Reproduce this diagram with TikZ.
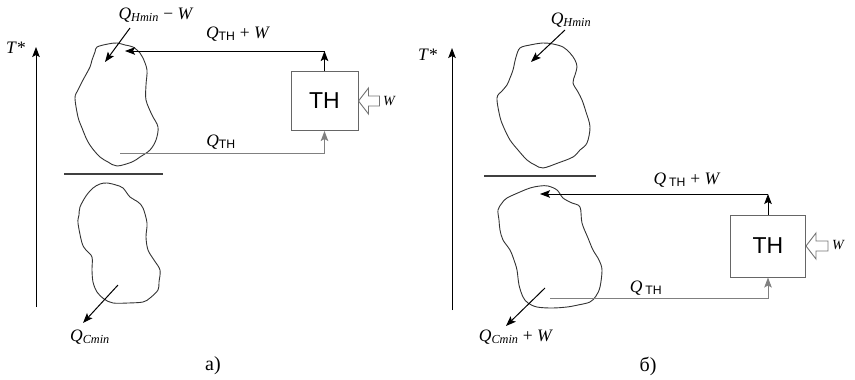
\documentclass[tikz,border=0pt]{standalone}
\usepackage{fontspec}
\setmainfont{Liberation Serif}
\newfontfamily\thfont{Liberation Sans}
\usetikzlibrary{arrows.meta,positioning}

\newcommand{\qlab}[1]{\textit{Q}\textsubscript{#1}}
\newcommand{\thsub}{{\thfont TH}}

\begin{document}
\begin{tikzpicture}[
  x=1pt, y=-1pt,
  lab/.style={inner sep=0pt, font=\fontsize{17.5}{19}\selectfont},
  wlab/.style={inner sep=0pt, font=\fontsize{14}{16}\selectfont\itshape},
  pump/.style={draw=black!60, line width=1pt, inner sep=0pt, font=\fontsize{23}{25}\thfont},
  work/.style={draw=black!55, line width=0.9pt, line join=miter},
  arrow/.style={-{Stealth[length=10pt,width=7.5pt,inset=2pt]}, line width=1pt},
  arrowg/.style={-{Stealth[length=10pt,width=7.5pt,inset=2pt]}, line width=1pt, black!50},
  blob/.style={draw=black!80, line width=0.9pt},
  sep/.style={line width=1.3pt, black!75}
]
\useasboundingbox (0,0) rectangle (855,380);

% ---- panel a) ----
\draw[blob] plot[smooth cycle, tension=0.55] coordinates {(97,47) (108,44) (117,43) (125,45) (133,47)
  (140,53) (143,58) (147,70) (146,85) (146,100) (152,115) (158,127) (156,140) (150,150) (140,157)
  (132,162) (117,166) (108,162) (100,157) (92,148) (87,140) (82,128) (78,117) (75,98) (78,90)
  (83,80) (90,67) (92,60) (95,52)};
\draw[blob] plot[smooth cycle, tension=0.55] coordinates {(107,183) (116,185) (123,188) (130,197)
  (138,202) (143,208) (147,223) (146,237) (148,250) (154,260) (160,270) (159,282) (158,290) (150,298)
  (143,302) (128,303) (113,303) (104,299) (97,292) (93,282) (92,270) (92,257) (86,250) (82,243)
  (78,223) (79,215) (80,207) (86,196) (93,188) (100,184)};
\draw[sep] (64,174) -- (163,174);

\coordinate (aAxisBot) at (36,307);
\coordinate (aAxisTop) at (36,47);
\draw[arrow] (aAxisBot) -- (aAxisTop);
\node[lab] (aT) at (16,48) {\textit{T}*};

\node[pump, minimum width=67pt, minimum height=59pt] (thA) at (324.5,101) {TH};
\draw[work] (thA.east) -- ++(10,-13) -- ++(0,8) -- ++(11,0) -- ++(0,10)
  -- ++(-11,0) -- ++(0,8) -- cycle;
\node[wlab] (wlabA) at (389,101) {W};

\coordinate (aHin) at (125,51);
\draw[arrow] (thA.north) -- (thA.north |- aHin);
\draw[arrow] (thA.north |- aHin) -- (aHin);
\coordinate (aCout) at (120,153);
\draw[arrowg] (aCout) -- (aCout -| thA.south) -- (thA.south);

\node[lab] (aHlab) at (156,15) {\qlab{\textit{Hmin}} − \textit{W}};
\coordinate (aHfrom) at (130,28);
\coordinate (aHto) at (105,62);
\draw[arrow] (aHfrom) -- (aHto);
\node[lab] (aTopLab) at (238,34) {\qlab{\thsub} + \textit{W}};
\node[lab] (aBotLab) at (221,142) {\qlab{\thsub}};

\coordinate (aCfrom) at (118,285);
\coordinate (aCto) at (83,323);
\draw[arrow] (aCfrom) -- (aCto);
\node[lab] (aClab) at (90,337) {\qlab{\textit{Cmin}}};
\node[inner sep=0pt, font=\fontsize{20}{22}\selectfont] (capA) at (213,366) {а)};

% ---- panel b) ----
\draw[blob] plot[smooth cycle, tension=0.55] coordinates {(520,48) (530,45) (543,43) (553,44)
  (563,47) (570,53) (575,60) (577,67) (575,75) (573,83) (578,92) (582,100) (586,112) (590,127)
  (587,143) (580,150) (573,157) (558,163) (543,168) (535,165) (527,160) (518,150) (510,140)
  (504,128) (500,117) (497,98) (502,91) (507,85) (510,78) (513,70) (516,57)};
\draw[blob] plot[smooth cycle, tension=0.55] coordinates {(520,192) (530,188) (540,186) (548,186)
  (557,190) (563,198) (572,203) (580,207) (582,223) (588,238) (593,250) (599,260) (602,270)
  (600,287) (596,296) (590,302) (578,305) (567,307) (552,308) (537,307) (528,303) (523,297)
  (519,285) (517,270) (514,260) (510,250) (503,240) (500,230) (499,220) (498,210) (502,203) (507,198)};
\draw[sep] (484,176) -- (596,176);

\coordinate (bAxisBot) at (452,310);
\coordinate (bAxisTop) at (452,48);
\draw[arrow] (bAxisBot) -- (bAxisTop);
\node[lab] (bT) at (428,55) {\textit{T}*};

\node[pump, minimum width=75pt, minimum height=62pt] (thB) at (768,246) {TH};
\draw[work] (thB.east) -- ++(10,-13) -- ++(0,8) -- ++(12,0) -- ++(0,10)
  -- ++(-12,0) -- ++(0,8) -- cycle;
\node[wlab] (wlabB) at (838,245) {W};

\coordinate (bHin) at (540,194);
\draw[arrow] (thB.north) -- (thB.north |- bHin);
\draw[arrow] (thB.north |- bHin) -- (bHin);
\coordinate (bCout) at (550,298);
\draw[arrowg] (bCout) -- (bCout -| thB.south) -- (thB.south);

\node[lab] (bHlab) at (571,20) {\qlab{\textit{Hmin}}};
\coordinate (bHfrom) at (565,30);
\coordinate (bHto) at (531,62);
\draw[arrow] (bHfrom) -- (bHto);
\node[lab] (bTopLab) at (687,180) {\textit{Q}\,\textsubscript{\thsub} + \textit{W}};
\node[lab] (bBotLab) at (646,288) {\textit{Q}\,\textsubscript{\thsub}};

\coordinate (bCfrom) at (545,288);
\coordinate (bCto) at (506,326);
\draw[arrow] (bCfrom) -- (bCto);
\node[lab] (bClab) at (516,337) {\qlab{\textit{Cmin}} + \textit{W}};
\node[inner sep=0pt, font=\fontsize{20}{22}\selectfont] (capB) at (648,366) {б)};
\end{tikzpicture}
\end{document}
